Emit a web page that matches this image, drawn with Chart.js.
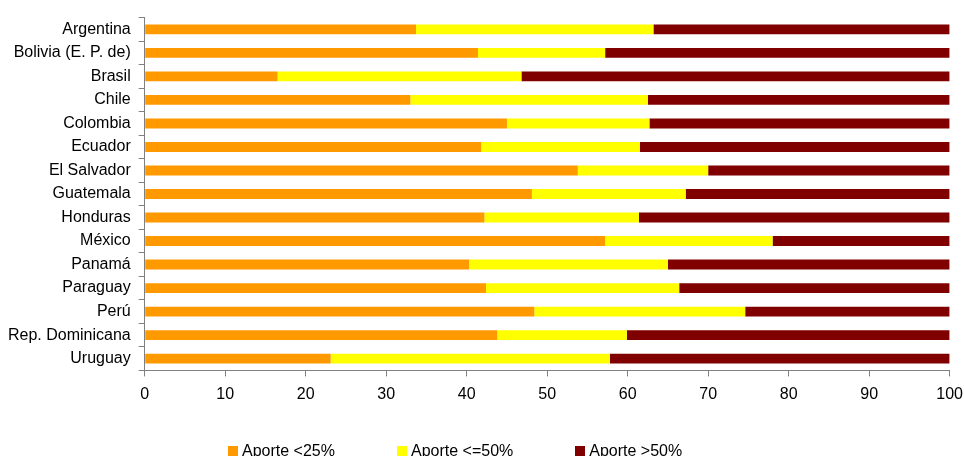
<!DOCTYPE html>
<html>
<head>
<meta charset="utf-8">
<script src="https://cdn.jsdelivr.net/npm/chart.js@4/dist/chart.umd.min.js"></script>
<style>
  html, body { margin: 0; padding: 0; background: #fff; }
  #wrap { position: relative; width: 964px; height: 456px; overflow: hidden; }
  #legend {
    position: absolute; left: 228px; top: 443px;
    display: flex; gap: 62px;
    font: 16px "Liberation Sans", Arial, sans-serif; line-height: 16px; color: #000;
  }
  #legend span.item { display: flex; align-items: center; }
  #legend span.box { display: inline-block; width: 10px; height: 10px; margin-right: 4px; }
</style>
</head>
<body>
<div id="wrap">
  <canvas id="chart" width="964" height="456"></canvas>
  <div id="legend"></div>
</div>
<script>
const countries = [
  'Argentina', 'Bolivia (E. P. de)', 'Brasil', 'Chile', 'Colombia', 'Ecuador',
  'El Salvador', 'Guatemala', 'Honduras', 'México', 'Panamá', 'Paraguay',
  'Perú', 'Rep. Dominicana', 'Uruguay',
]
const aporteMenor25 = [33.7, 41.4, 16.5, 33.0, 45.0, 41.8, 53.8, 48.1, 42.2, 57.2, 40.3, 42.4, 48.4, 43.8, 23.1]
const aporteHasta50 = [29.5, 15.8, 30.3, 29.5, 17.7, 19.7, 16.2, 19.1, 19.2, 20.8, 24.7, 24.0, 26.2, 16.1, 34.7]
const aporteMayor50 = [36.8, 42.8, 53.2, 37.5, 37.3, 38.5, 30.0, 32.8, 38.6, 22.0, 35.0, 33.6, 25.4, 40.1, 42.2]
const seriesNames = ['Aporte <25%', 'Aporte <=50%', 'Aporte >50%']
const colors = ['#FF9900', '#FFFF00', '#800000']

const axisColor = '#808080'
const fontFamily = '"Liberation Sans", Arial, sans-serif'

const datasets = [aporteMenor25, aporteHasta50, aporteMayor50].map((values, i) => ({
  label: seriesNames[i],
  data: values,
  backgroundColor: colors[i],
  borderWidth: 0,
  barPercentage: 0.42,
  categoryPercentage: 1,
}))

new Chart(document.getElementById('chart'), {
  type: 'bar',
  data: { labels: countries, datasets },
  options: {
    indexAxis: 'y',
    responsive: false,
    animation: false,
    layout: { padding: { top: 11, right: 9, bottom: 44, left: 0 } },
    plugins: { legend: { display: false }, tooltip: { enabled: false } },
    scales: {
      x: {
        stacked: true,
        min: 0,
        max: 100,
        // small padding keeps the right edge near 100; taller line moves labels down
        ticks: { stepSize: 10, color: '#000', font: { family: fontFamily, size: 16, lineHeight: 2.1 }, padding: 1 },
        grid: { drawOnChartArea: false, color: axisColor, tickLength: 6 },
        border: { color: axisColor, width: 1 },
      },
      y: {
        stacked: true,
        ticks: { color: '#000', font: { family: fontFamily, size: 16 }, padding: 8 },
        grid: { drawOnChartArea: false, color: axisColor, tickLength: 6 },
        border: { color: axisColor, width: 1 },
      },
    },
  },
})

// legend as html below the chart
const legendEl = document.getElementById('legend')
seriesNames.forEach((name, i) => {
  const item = document.createElement('span')
  item.className = 'item'
  item.innerHTML = `<span class="box" style="background:${colors[i]}"></span>${name}`
  legendEl.appendChild(item)
})
</script>
</body>
</html>
